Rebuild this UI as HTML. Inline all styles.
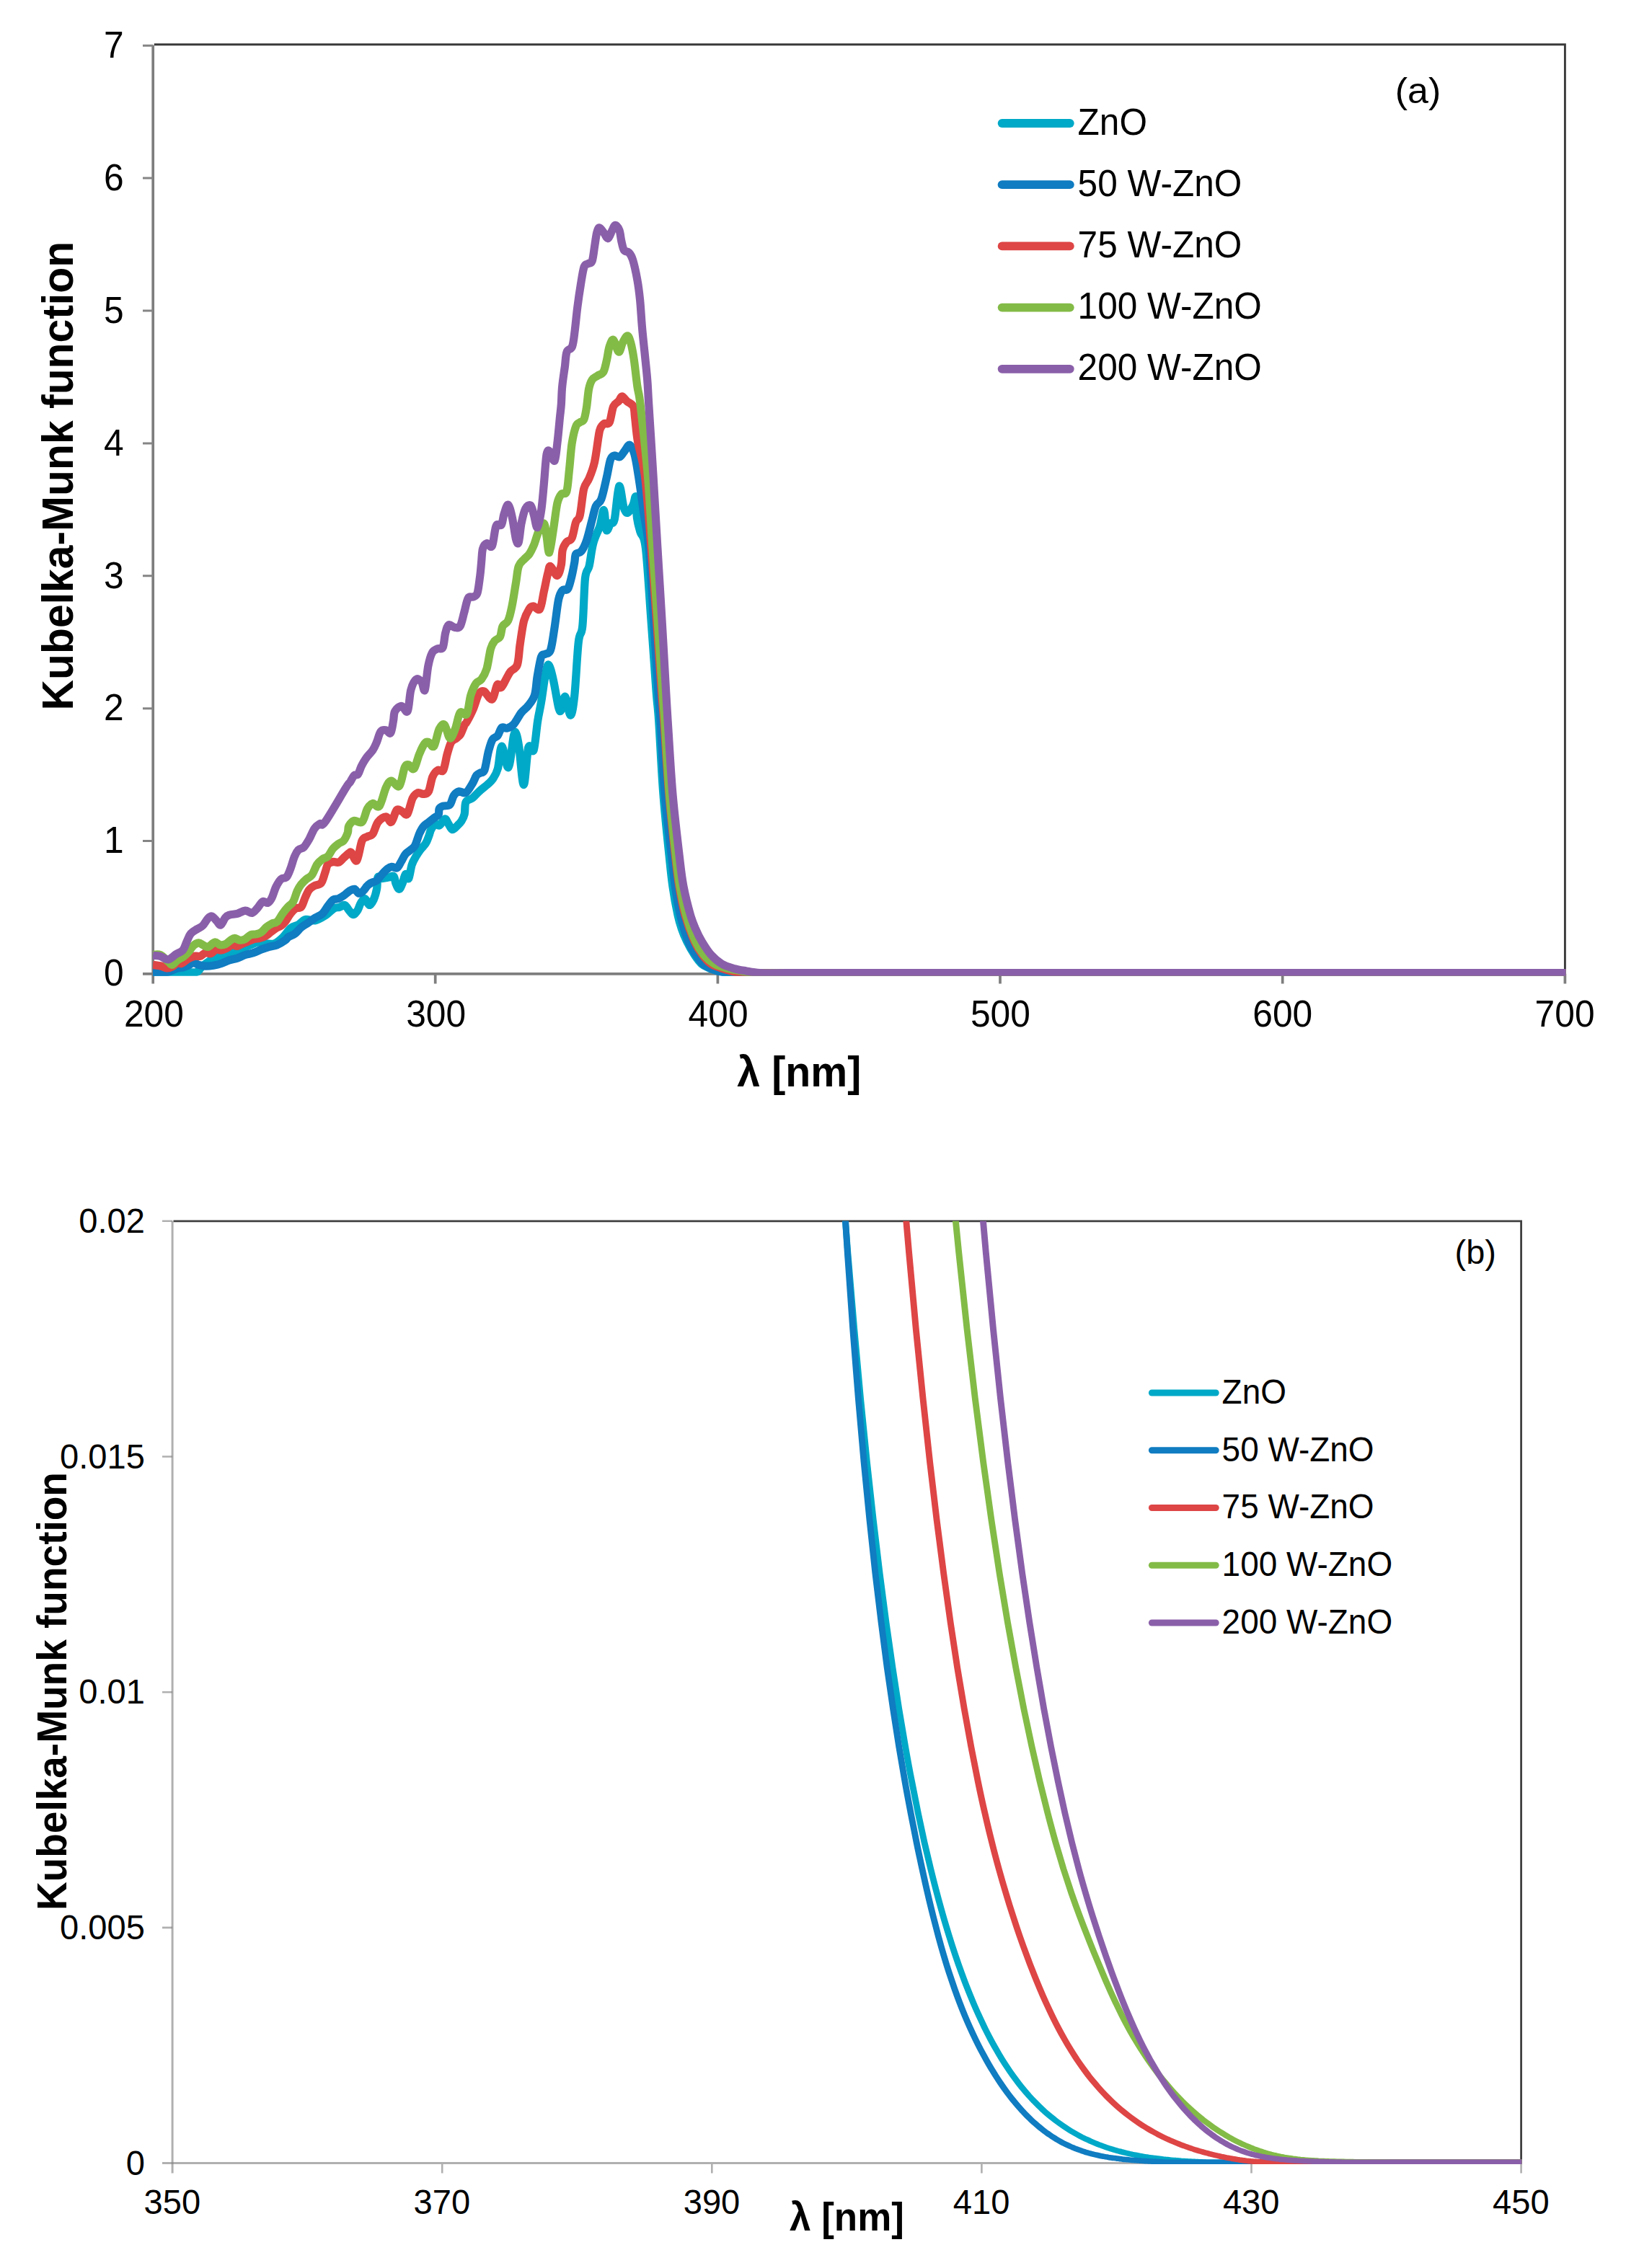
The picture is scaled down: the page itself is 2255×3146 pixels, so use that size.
<!DOCTYPE html>
<html lang="en"><head><meta charset="utf-8"><title>Kubelka-Munk function of ZnO and W-ZnO</title>
<style>html,body{margin:0;padding:0;background:#fff}svg{display:block}text{font-family:"Liberation Sans", sans-serif;fill:#000}</style>
</head><body>
<svg width="2255" height="3146" viewBox="0 0 2255 3146">
<rect width="2255" height="3146" fill="#fff"/>
<g id="chart-a">
<path d="M213.8 61.8H2170.4V1350" fill="none" stroke="#3a3a3a" stroke-width="2.9"/>
<g stroke="#7e7e7e" stroke-width="3.7" fill="none">
<path d="M212.2 62.5V1364.5"/>
<path d="M198 1350.8H2170.4"/>
<path d="M198 1166.6H212M198 982.7H212M198 798.8H212M198 614.9H212M198 431.0H212M198 247.1H212M198 63.2H212" stroke="#858585" stroke-width="3"/>
<path d="M603.7 1350.8V1364.5M995.4 1350.8V1364.5M1387.0 1350.8V1364.5M1778.7 1350.8V1364.5M2170.4 1350.8V1364.5"/>
</g>
<clipPath id="clipa"><rect x="212" y="40" width="1959.7" height="1313.8"/></clipPath>
<g fill="none" stroke-width="11.2" stroke-linejoin="round" stroke-linecap="butt" clip-path="url(#clipa)">
<path d="M212.0 1350.0C216.1 1349.9 229.7 1349.6 236.9 1349.4C244.1 1349.3 249.7 1349.2 255.4 1349.0C261.0 1348.9 267.7 1349.1 271.0 1348.7C274.4 1348.3 273.9 1347.8 275.3 1346.6C276.7 1345.4 277.7 1343.1 279.3 1341.5C280.9 1339.9 282.7 1338.6 284.9 1337.0C287.0 1335.4 289.2 1333.5 292.3 1331.9C295.3 1330.3 299.0 1328.7 303.3 1327.3C307.6 1325.9 312.5 1325.6 318.1 1323.6C323.6 1321.6 331.6 1317.4 336.5 1315.3C341.5 1313.1 343.9 1312.0 347.6 1310.7C351.3 1309.3 355.0 1307.3 358.7 1307.0C362.4 1306.7 366.1 1308.5 369.7 1308.8C373.4 1309.1 377.1 1310.2 380.8 1308.8C384.5 1307.4 388.7 1303.5 391.9 1300.5C395.1 1297.5 397.9 1293.2 400.0 1290.9C402.1 1288.5 402.0 1287.9 404.4 1286.5C406.9 1285.0 411.6 1283.9 414.8 1282.0C418.0 1280.2 419.9 1276.2 423.6 1275.4C427.3 1274.5 432.2 1277.8 436.9 1276.9C441.6 1275.9 447.2 1272.3 451.7 1269.5C456.1 1266.7 460.3 1261.7 463.5 1259.9C466.7 1258.0 468.4 1259.2 470.8 1258.4C473.3 1257.7 476.0 1254.7 478.2 1255.5C480.4 1256.2 482.2 1260.6 484.1 1262.8C486.1 1265.1 488.1 1268.7 490.0 1268.7C492.0 1268.7 494.2 1265.5 495.9 1262.8C497.7 1260.1 498.6 1255.2 500.4 1252.5C502.1 1249.8 504.3 1246.1 506.3 1246.6C508.2 1247.1 510.2 1255.2 512.2 1255.5C514.1 1255.7 516.4 1251.8 518.1 1248.1C519.8 1244.4 521.5 1238.5 522.5 1233.3C523.5 1228.2 522.8 1219.5 524.0 1217.1C525.2 1214.6 527.4 1218.6 529.9 1218.6C532.3 1218.6 536.0 1217.6 538.7 1217.1C541.5 1216.6 544.4 1214.1 546.1 1215.6C547.8 1217.1 547.8 1223.0 549.1 1225.9C550.3 1228.9 552.0 1233.3 553.5 1233.3C555.0 1233.3 556.5 1229.4 557.9 1225.9C559.4 1222.5 560.9 1213.9 562.4 1212.7C563.8 1211.4 565.3 1220.8 566.8 1218.6C568.3 1216.3 569.5 1204.5 571.2 1199.4C572.9 1194.2 575.2 1191.0 577.1 1187.6C579.1 1184.1 580.8 1181.7 583.0 1178.7C585.2 1175.8 588.4 1173.1 590.4 1169.9C592.4 1166.7 593.6 1162.7 594.8 1159.5C596.1 1156.3 596.3 1153.4 597.8 1150.7C599.3 1148.0 601.7 1144.3 603.7 1143.3C605.7 1142.3 607.4 1146.0 609.6 1144.8C611.8 1143.5 615.0 1136.4 617.0 1135.9C618.9 1135.4 619.7 1139.3 621.4 1141.8C623.1 1144.3 625.1 1150.2 627.3 1150.7C629.5 1151.2 632.6 1146.7 634.7 1144.8C636.8 1142.8 638.4 1141.5 640.0 1138.9C641.6 1136.3 643.2 1133.5 644.2 1129.2C645.2 1124.8 644.2 1116.2 646.1 1112.5C647.9 1108.9 652.2 1109.5 655.3 1107.0C658.4 1104.6 661.1 1100.9 664.5 1097.8C667.9 1094.7 672.5 1091.3 675.6 1088.6C678.6 1085.8 680.5 1084.9 683.0 1081.2C685.4 1077.5 688.2 1074.1 690.3 1066.4C692.5 1058.7 693.4 1035.4 695.9 1035.1C698.3 1034.7 702.3 1067.0 705.1 1064.6C707.9 1062.1 710.6 1028.0 712.5 1020.3C714.3 1012.6 714.9 1015.7 716.2 1018.5C717.4 1021.2 718.2 1025.2 719.9 1036.9C721.5 1048.6 724.2 1088.6 726.3 1088.6C728.5 1088.6 730.5 1044.9 732.8 1036.9C735.1 1028.9 738.0 1046.7 740.1 1040.6C742.3 1034.4 743.9 1011.1 745.7 1000.0C747.4 988.9 748.9 984.3 750.6 973.7C752.4 963.2 754.5 945.4 756.2 936.8C757.9 928.2 758.9 921.1 760.8 922.1C762.6 923.0 764.9 932.5 767.2 942.4C769.5 952.2 772.8 974.0 774.6 981.1C776.5 988.2 776.8 987.3 778.3 984.8C779.8 982.3 781.7 965.1 783.8 966.3C786.0 967.6 789.1 992.5 791.2 992.2C793.4 991.9 794.9 981.4 796.8 964.5C798.6 947.6 800.4 906.7 802.3 890.7C804.1 874.7 806.3 883.3 807.8 868.6C809.4 853.8 810.0 816.1 811.5 802.1C813.1 788.2 815.3 793.2 817.1 785.1C819.0 777.0 820.2 763.0 822.7 753.7C825.1 744.5 829.4 737.4 831.9 729.7C834.3 722.1 835.9 706.7 837.4 707.6C839.0 708.5 839.6 732.2 841.1 735.3C842.6 738.4 844.8 728.5 846.6 726.1C848.5 723.6 850.2 729.1 852.2 720.5C854.2 711.9 856.5 677.2 858.6 674.4C860.8 671.6 863.1 697.8 865.1 703.9C867.1 710.1 868.5 711.9 870.6 711.3C872.8 710.7 876.2 703.9 878.0 700.2C879.9 696.5 880.8 686.1 881.7 689.2C882.6 692.2 882.4 710.6 883.5 718.7C884.6 726.8 886.0 731.1 888.0 738.0C890.0 744.9 892.9 739.7 895.4 760.0C897.9 780.3 900.5 826.7 903.0 860.0C905.5 893.3 908.4 936.7 910.2 960.0C912.0 983.3 912.1 976.7 913.7 1000.0C915.3 1023.3 917.3 1068.3 919.8 1100.0C922.2 1131.7 926.2 1168.4 928.4 1190.0C930.6 1211.6 931.0 1216.3 932.9 1229.4C934.8 1242.5 937.8 1258.9 939.9 1268.7C942.0 1278.5 943.3 1282.2 945.4 1288.4C947.5 1294.6 949.6 1299.6 952.5 1305.6C955.4 1311.6 959.6 1319.1 963.0 1324.3C966.4 1329.5 969.5 1333.9 973.0 1337.0C976.5 1340.1 980.3 1341.4 984.0 1343.0C987.7 1344.6 991.5 1345.8 995.0 1346.7C998.5 1347.6 1002.5 1348.1 1005.3 1348.6C1008.1 1349.1 1009.2 1349.3 1012.0 1349.5C1014.8 1349.7 1018.2 1349.8 1022.0 1349.8C1025.8 1349.8 1028.7 1349.7 1035.0 1349.7C1041.3 1349.7 1051.7 1349.7 1060.0 1349.7C1068.3 1349.7 1080.8 1349.7 1085.0 1349.7H2173.4" stroke="#00A9C7"/>
<path d="M212.0 1349.4C214.6 1349.4 223.5 1349.9 227.7 1349.4C231.8 1348.9 233.8 1347.7 236.9 1346.6C240.0 1345.6 243.4 1343.7 246.1 1343.0C248.9 1342.2 251.0 1342.6 253.5 1342.0C256.0 1341.4 258.4 1340.3 260.9 1339.3C263.3 1338.2 265.8 1335.7 268.3 1335.6C270.7 1335.4 272.9 1337.6 275.6 1338.3C278.4 1339.1 281.5 1340.0 284.9 1340.2C288.3 1340.3 292.3 1339.9 295.9 1339.3C299.6 1338.6 303.3 1337.7 307.0 1336.5C310.7 1335.3 314.4 1333.1 318.1 1331.9C321.8 1330.7 325.5 1330.3 329.2 1329.1C332.8 1327.9 336.5 1325.7 340.2 1324.5C343.9 1323.3 347.6 1323.0 351.3 1321.7C355.0 1320.5 358.7 1318.5 362.4 1317.1C366.1 1315.7 369.7 1314.5 373.4 1313.4C377.1 1312.4 380.8 1312.2 384.5 1310.7C388.2 1309.1 393.0 1306.0 395.6 1304.2C398.2 1302.4 397.8 1301.2 400.0 1299.7C402.2 1298.3 405.9 1297.5 408.9 1295.3C411.8 1293.1 414.8 1288.9 417.7 1286.5C420.7 1284.0 423.4 1282.8 426.6 1280.6C429.8 1278.3 433.5 1275.4 436.9 1273.2C440.3 1271.0 444.3 1270.0 447.2 1267.3C450.2 1264.6 452.2 1260.1 454.6 1256.9C457.1 1253.7 459.5 1249.8 462.0 1248.1C464.5 1246.4 466.9 1247.6 469.4 1246.6C471.8 1245.6 474.3 1243.9 476.8 1242.2C479.2 1240.5 481.7 1237.7 484.1 1236.3C486.6 1234.8 489.3 1232.8 491.5 1233.3C493.7 1233.8 495.4 1238.7 497.4 1239.2C499.4 1239.7 501.4 1238.0 503.3 1236.3C505.3 1234.6 507.3 1230.9 509.2 1228.9C511.2 1226.9 512.9 1225.7 515.1 1224.5C517.3 1223.2 520.0 1223.5 522.5 1221.5C525.0 1219.5 527.4 1215.4 529.9 1212.7C532.3 1210.0 535.1 1207.0 537.3 1205.3C539.5 1203.6 541.0 1202.6 543.2 1202.3C545.4 1202.1 548.3 1205.0 550.6 1203.8C552.8 1202.6 554.5 1198.1 556.5 1194.9C558.4 1191.7 560.1 1187.3 562.4 1184.6C564.6 1181.9 567.5 1180.7 569.7 1178.7C572.0 1176.7 573.7 1176.5 575.6 1172.8C577.6 1169.1 579.6 1161.0 581.5 1156.6C583.5 1152.1 585.2 1148.9 587.5 1146.2C589.7 1143.5 592.4 1142.3 594.8 1140.3C597.3 1138.4 600.0 1136.2 602.2 1134.4C604.4 1132.7 607.0 1132.1 608.1 1130.0C609.3 1127.9 608.1 1123.8 609.2 1121.8C610.2 1119.8 612.2 1119.0 614.7 1118.1C617.1 1117.2 621.5 1118.7 623.9 1116.2C626.4 1113.8 627.3 1106.4 629.4 1103.3C631.6 1100.2 634.1 1098.4 636.8 1097.8C639.6 1097.2 643.0 1101.5 646.1 1099.6C649.1 1097.8 652.8 1090.7 655.3 1086.7C657.7 1082.7 659.0 1078.1 660.8 1075.6C662.7 1073.2 664.5 1073.2 666.3 1072.0C668.2 1070.7 670.0 1073.2 671.9 1068.3C673.7 1063.3 675.6 1049.5 677.4 1042.4C679.3 1035.4 680.8 1029.5 683.0 1025.8C685.1 1022.1 688.2 1023.1 690.3 1020.3C692.5 1017.5 693.7 1010.9 695.9 1009.2C698.0 1007.5 700.5 1010.9 703.2 1010.1C706.0 1009.4 709.2 1008.2 712.5 1004.6C715.8 1001.0 719.7 992.7 723.0 988.5C726.2 984.3 729.1 983.3 732.2 979.3C735.3 975.3 739.2 971.3 741.4 964.5C743.6 957.7 743.6 947.6 745.1 938.7C746.6 929.8 748.8 916.2 750.6 911.0C752.5 905.8 754.0 908.8 756.2 907.3C758.3 905.8 761.4 907.9 763.5 901.8C765.7 895.6 767.2 882.1 769.1 870.4C770.9 858.7 772.8 840.3 774.6 831.7C776.5 823.1 778.0 821.2 780.1 818.7C782.3 816.3 785.4 820.3 787.5 816.9C789.7 813.5 791.5 804.6 793.1 798.5C794.6 792.3 795.8 785.0 796.8 780.0C797.7 775.0 797.1 771.0 798.7 768.5C800.2 766.0 803.6 767.9 806.1 764.8C808.5 761.7 811.0 757.1 813.4 750.0C815.9 743.0 818.7 730.4 820.8 722.4C823.0 714.4 824.2 707.0 826.3 702.1C828.5 697.1 831.3 699.3 833.7 692.8C836.2 686.4 839.0 672.5 841.1 663.3C843.3 654.1 844.8 642.7 846.6 637.5C848.5 632.3 850.0 632.6 852.2 632.0C854.3 631.3 857.1 635.0 859.6 633.8C862.0 632.6 864.6 627.3 866.9 624.6C869.2 621.8 871.2 616.3 873.4 617.2C875.5 618.1 877.9 623.0 879.9 630.1C881.9 637.2 883.3 646.7 885.4 660.0C887.5 673.3 890.2 693.2 892.6 709.9C895.0 726.6 897.7 735.0 900.0 760.0C902.3 785.0 904.5 826.7 906.6 860.0C908.8 893.3 911.3 936.7 912.9 960.0C914.5 983.3 914.6 976.7 916.1 1000.0C917.7 1023.3 919.4 1068.3 922.0 1100.0C924.6 1131.7 929.4 1168.4 931.8 1190.0C934.2 1211.6 934.5 1216.3 936.4 1229.4C938.3 1242.5 940.4 1256.0 943.4 1268.7C946.4 1281.4 950.9 1296.3 954.5 1305.6C958.1 1314.9 961.6 1319.1 965.0 1324.3C968.4 1329.5 971.7 1333.9 975.0 1337.0C978.3 1340.1 981.7 1341.3 985.0 1343.0C988.3 1344.7 991.8 1346.0 995.0 1346.9C998.2 1347.9 1001.5 1348.2 1004.0 1348.7C1006.5 1349.2 1007.0 1349.4 1009.7 1349.6C1012.4 1349.8 1015.8 1349.8 1020.0 1349.8C1024.2 1349.8 1028.3 1349.7 1035.0 1349.7C1041.7 1349.7 1051.7 1349.7 1060.0 1349.7C1068.3 1349.7 1080.8 1349.7 1085.0 1349.7H2173.4" stroke="#107CC1"/>
<path d="M212.0 1338.3C214.0 1338.6 220.8 1339.4 224.0 1340.2C227.2 1341.0 228.9 1342.8 231.4 1343.0C233.8 1343.1 236.3 1342.3 238.7 1341.1C241.2 1339.9 244.0 1336.3 246.1 1335.6C248.3 1334.8 249.2 1337.4 251.7 1336.5C254.1 1335.6 257.8 1331.7 260.9 1330.0C264.0 1328.3 267.3 1327.0 270.1 1326.3C272.9 1325.7 275.0 1327.1 277.5 1326.3C280.0 1325.6 282.4 1322.3 284.9 1321.7C287.3 1321.1 289.8 1323.4 292.3 1322.7C294.7 1321.9 297.2 1317.9 299.6 1317.1C302.1 1316.4 304.6 1318.4 307.0 1318.0C309.5 1317.7 311.9 1316.5 314.4 1315.3C316.9 1314.0 319.3 1311.1 321.8 1310.7C324.2 1310.2 326.7 1312.8 329.2 1312.5C331.6 1312.2 334.1 1309.9 336.5 1308.8C339.0 1307.7 341.1 1307.1 343.9 1306.1C346.7 1305.0 350.4 1303.1 353.1 1302.4C355.9 1301.6 358.1 1302.1 360.5 1301.4C363.0 1300.8 365.4 1300.1 367.9 1298.7C370.4 1297.3 372.8 1295.0 375.3 1293.1C377.7 1291.3 380.2 1289.1 382.7 1287.6C385.1 1286.1 387.9 1285.4 390.0 1283.9C392.2 1282.4 393.4 1281.1 395.6 1278.4C397.7 1275.6 400.5 1270.4 403.0 1267.3C405.4 1264.2 407.9 1261.5 410.3 1259.9C412.8 1258.4 415.6 1260.5 417.7 1258.1C419.9 1255.6 421.4 1249.2 423.2 1245.2C425.1 1241.2 426.6 1236.9 428.8 1234.1C430.9 1231.3 433.4 1230.1 436.2 1228.6C438.9 1227.0 442.9 1227.9 445.4 1224.9C447.8 1221.8 449.4 1214.4 450.9 1210.1C452.5 1205.8 452.8 1201.5 454.6 1199.0C456.5 1196.6 459.5 1195.8 462.0 1195.4C464.5 1194.9 466.9 1197.2 469.4 1196.3C471.8 1195.4 474.3 1192.0 476.8 1189.8C479.2 1187.7 482.4 1184.6 484.1 1183.4C485.9 1182.2 485.6 1180.9 487.4 1182.7C489.2 1184.4 492.3 1196.5 494.8 1193.7C497.2 1191.0 499.7 1171.6 502.1 1166.1C504.6 1160.5 507.1 1162.1 509.5 1160.5C512.0 1159.0 514.4 1160.2 516.9 1156.8C519.4 1153.4 521.2 1144.2 524.3 1140.2C527.4 1136.2 532.3 1132.8 535.4 1132.8C538.4 1132.8 540.3 1141.8 542.7 1140.2C545.2 1138.7 547.7 1126.1 550.1 1123.6C552.6 1121.2 555.0 1124.5 557.5 1125.5C560.0 1126.4 562.4 1132.2 564.9 1129.2C567.3 1126.1 569.8 1111.9 572.3 1107.0C574.7 1102.1 577.2 1100.6 579.6 1099.6C582.1 1098.7 584.6 1101.8 587.0 1101.5C589.5 1101.2 592.2 1101.8 594.4 1097.8C596.5 1093.8 597.8 1082.4 599.9 1077.5C602.1 1072.6 604.8 1069.8 607.3 1068.3C609.8 1066.7 612.5 1072.0 614.7 1068.3C616.8 1064.6 618.4 1052.6 620.2 1046.1C622.1 1039.7 623.6 1033.2 625.8 1029.5C627.9 1025.8 631.0 1025.8 633.1 1024.0C635.3 1022.1 636.8 1021.5 638.7 1018.5C640.5 1015.4 642.8 1008.4 644.2 1005.5C645.6 1002.7 645.3 1005.2 647.3 1001.4C649.4 997.6 653.8 989.4 656.5 983.0C659.3 976.5 661.5 966.7 663.9 962.7C666.4 958.7 668.2 957.7 671.3 959.0C674.4 960.2 679.3 971.6 682.4 970.0C685.4 968.5 687.6 952.5 689.7 949.7C691.9 947.0 693.1 955.0 695.3 953.4C697.4 951.9 700.5 944.2 702.7 940.5C704.8 936.8 705.7 934.4 708.2 931.3C710.7 928.2 715.3 928.2 717.4 922.1C719.6 915.9 719.6 904.5 721.1 894.4C722.6 884.2 724.5 869.5 726.6 861.2C728.8 852.9 731.9 848.0 734.0 844.6C736.2 841.2 737.1 840.9 739.6 840.9C742.0 840.9 746.3 848.0 748.8 844.6C751.2 841.2 752.5 828.9 754.3 820.6C756.2 812.3 758.3 800.6 759.9 794.8C761.4 788.9 761.4 784.9 763.5 785.5C765.7 786.2 770.3 798.8 772.8 798.5C775.2 798.1 777.1 789.6 778.3 783.7C779.5 777.8 779.0 768.3 780.2 763.0C781.5 757.7 783.6 754.6 785.8 751.9C787.9 749.1 791.0 751.0 793.1 746.3C795.3 741.7 796.8 729.4 798.7 724.2C800.5 719.0 802.4 722.7 804.2 715.0C806.1 707.3 807.6 686.7 809.7 678.1C811.9 669.5 814.7 669.5 817.1 663.3C819.6 657.2 822.3 650.7 824.5 641.2C826.7 631.6 828.7 613.8 830.0 606.1C831.3 598.4 831.0 598.2 832.3 595.1C833.5 592.0 835.6 589.2 837.8 587.7C839.9 586.2 843.0 589.9 845.2 585.9C847.3 581.9 848.5 568.6 850.7 563.7C852.9 558.8 856.1 558.7 858.1 556.3C860.1 554.0 860.8 549.9 862.7 549.9C864.5 549.9 866.5 554.0 869.2 556.3C871.8 558.7 876.5 560.0 878.4 563.7C880.3 567.5 879.6 570.8 880.6 579.0C881.6 587.2 882.3 599.4 884.6 612.9C886.9 626.4 891.3 635.5 894.4 660.0C897.5 684.5 900.4 726.7 903.1 760.0C905.8 793.3 908.1 826.7 910.5 860.0C912.9 893.3 915.8 936.7 917.5 960.0C919.2 983.3 919.1 976.7 920.8 1000.0C922.5 1023.3 925.0 1068.3 927.7 1100.0C930.4 1131.7 934.4 1168.4 936.8 1190.0C939.2 1211.6 939.7 1216.3 941.9 1229.4C944.1 1242.5 946.4 1256.0 949.9 1268.7C953.4 1281.4 958.9 1296.3 962.9 1305.6C966.9 1314.9 970.1 1319.1 974.0 1324.3C977.9 1329.5 981.5 1333.8 986.0 1337.0C990.5 1340.2 996.6 1341.6 1001.0 1343.2C1005.4 1344.8 1009.1 1345.8 1012.6 1346.7C1016.1 1347.6 1019.5 1348.1 1022.0 1348.6C1024.5 1349.1 1024.5 1349.3 1027.5 1349.5C1030.5 1349.7 1035.4 1349.8 1040.0 1349.8C1044.6 1349.8 1048.3 1349.7 1055.0 1349.7C1061.7 1349.7 1071.7 1349.7 1080.0 1349.7C1088.3 1349.7 1100.8 1349.7 1105.0 1349.7H2173.4" stroke="#DE4545"/>
<path d="M212.0 1324.5C213.7 1324.5 218.6 1323.0 222.1 1324.5C225.7 1326.0 230.4 1331.4 233.2 1333.7C236.0 1336.0 236.6 1338.6 238.7 1338.3C240.9 1338.0 243.4 1333.9 246.1 1331.9C248.9 1329.9 252.6 1328.5 255.4 1326.3C258.1 1324.2 260.6 1321.4 262.7 1319.0C264.9 1316.5 266.1 1313.4 268.3 1311.6C270.4 1309.7 273.5 1308.1 275.6 1307.9C277.8 1307.7 279.0 1309.7 281.2 1310.7C283.3 1311.6 285.8 1314.0 288.6 1313.4C291.3 1312.8 295.0 1307.4 297.8 1307.0C300.6 1306.5 302.7 1310.2 305.2 1310.7C307.6 1311.1 310.1 1310.8 312.5 1309.7C315.0 1308.7 317.8 1305.6 319.9 1304.2C322.1 1302.8 323.3 1301.4 325.5 1301.4C327.6 1301.4 330.4 1304.1 332.8 1304.2C335.3 1304.4 337.8 1303.6 340.2 1302.4C342.7 1301.1 345.1 1297.9 347.6 1296.8C350.1 1295.8 352.5 1296.5 355.0 1295.9C357.4 1295.3 359.9 1294.8 362.4 1293.1C364.8 1291.4 367.3 1287.8 369.7 1285.8C372.2 1283.8 374.7 1282.4 377.1 1281.1C379.6 1279.9 382.0 1280.7 384.5 1278.4C387.0 1276.1 389.4 1270.7 391.9 1267.3C394.3 1263.9 396.8 1260.8 399.3 1258.1C401.7 1255.3 404.5 1254.4 406.6 1250.7C408.8 1247.0 410.3 1239.9 412.2 1235.9C414.0 1231.9 415.6 1229.5 417.7 1226.7C419.9 1223.9 422.6 1221.5 425.1 1219.3C427.6 1217.2 430.0 1217.2 432.5 1213.8C434.9 1210.4 437.4 1202.7 439.9 1199.0C442.3 1195.4 444.8 1193.5 447.2 1191.7C449.7 1189.8 452.2 1190.4 454.6 1188.0C457.1 1185.5 459.5 1179.8 462.0 1176.9C464.5 1174.0 466.9 1172.3 469.4 1170.4C471.8 1168.6 474.6 1168.4 476.8 1165.8C478.9 1163.2 481.1 1158.1 482.3 1154.8C483.4 1151.4 482.2 1148.5 483.7 1145.8C485.2 1143.0 488.0 1139.3 491.1 1138.4C494.1 1137.5 499.1 1143.0 502.1 1140.2C505.2 1137.5 507.1 1126.1 509.5 1121.8C512.0 1117.5 514.1 1115.0 516.9 1114.4C519.7 1113.8 523.1 1121.8 526.1 1118.1C529.2 1114.4 532.6 1098.1 535.4 1092.3C538.1 1086.4 539.7 1083.3 542.7 1083.0C545.8 1082.7 550.7 1093.5 553.8 1090.4C556.9 1087.3 559.0 1069.5 561.2 1064.6C563.3 1059.7 564.6 1060.6 566.7 1060.9C568.9 1061.2 571.6 1068.9 574.1 1066.4C576.6 1064.0 579.0 1052.0 581.5 1046.1C583.9 1040.3 586.7 1034.1 588.9 1031.4C591.0 1028.6 592.2 1028.9 594.4 1029.5C596.5 1030.1 599.3 1038.1 601.8 1035.1C604.2 1032.0 606.7 1016.0 609.2 1011.1C611.6 1006.2 614.1 1003.4 616.5 1005.5C619.0 1007.7 621.5 1023.1 623.9 1024.0C626.4 1024.9 628.9 1017.0 631.3 1011.1C633.7 1005.2 635.4 991.9 638.1 988.5C640.8 985.0 644.8 994.3 647.3 990.3C649.8 986.3 650.7 971.6 652.8 964.5C655.0 957.4 657.8 951.6 660.2 947.9C662.7 944.2 665.1 945.7 667.6 942.4C670.1 939.0 672.8 934.7 675.0 927.6C677.1 920.5 678.7 906.4 680.5 899.9C682.4 893.5 683.9 891.6 686.1 888.9C688.2 886.1 691.6 886.7 693.4 883.3C695.3 879.9 695.3 872.3 697.1 868.6C699.0 864.9 702.3 865.8 704.5 861.2C706.7 856.6 708.2 849.8 710.0 840.9C711.9 832.0 714.0 816.9 715.6 807.7C717.1 798.5 717.4 790.8 719.3 785.5C721.1 780.2 724.2 778.7 726.7 775.9C729.2 773.0 731.8 771.9 734.1 768.5C736.4 765.1 738.4 760.8 740.6 755.6C742.7 750.3 744.7 742.0 747.0 737.1C749.3 732.2 752.5 724.8 754.4 726.1C756.2 727.3 756.9 737.7 758.1 744.5C759.3 751.3 760.2 768.2 761.8 766.6C763.3 765.1 765.5 746.7 767.3 735.3C769.2 723.9 771.0 706.7 772.8 698.4C774.7 690.1 776.2 688.2 778.4 685.5C780.5 682.7 783.9 687.3 785.8 681.8C787.6 676.2 788.2 663.3 789.4 652.3C790.7 641.2 791.6 625.5 793.1 615.4C794.7 605.2 796.8 596.3 798.7 591.4C800.5 586.4 802.4 587.4 804.2 585.8C806.1 584.3 808.2 585.5 809.7 582.1C811.3 578.8 812.3 572.6 813.4 565.5C814.6 558.5 815.3 546.2 816.6 539.7C817.9 533.3 819.2 529.9 821.2 526.8C823.2 523.8 825.9 523.1 828.6 521.3C831.2 519.4 834.7 519.4 836.9 515.8C839.0 512.1 840.1 505.0 841.5 499.2C842.9 493.3 843.6 485.3 845.2 480.7C846.7 476.1 848.5 470.2 850.7 471.5C852.9 472.7 855.9 487.5 858.1 488.1C860.2 488.7 861.6 478.9 863.6 475.2C865.6 471.5 868.2 465.9 870.1 465.9C871.9 465.9 873.1 469.6 874.7 475.2C876.2 480.7 877.8 489.0 879.3 499.2C880.8 509.3 882.4 525.6 883.9 536.1C885.4 546.5 885.8 541.3 888.2 562.0C890.6 582.7 895.6 627.0 898.4 660.0C901.2 693.0 902.7 726.7 905.0 760.0C907.3 793.3 909.7 826.7 912.0 860.0C914.3 893.3 917.2 936.7 918.8 960.0C920.4 983.3 920.3 976.7 921.9 1000.0C923.4 1023.3 925.7 1068.3 928.3 1100.0C930.9 1131.7 935.3 1168.4 937.7 1190.0C940.1 1211.6 940.6 1216.3 942.9 1229.4C945.2 1242.5 947.8 1256.0 951.4 1268.7C955.0 1281.4 960.3 1296.3 964.4 1305.6C968.5 1314.9 971.6 1319.1 976.0 1324.3C980.4 1329.5 985.3 1333.8 991.0 1337.0C996.7 1340.2 1004.0 1342.0 1010.0 1343.6C1016.0 1345.2 1022.3 1345.9 1027.0 1346.7C1031.7 1347.5 1035.0 1348.1 1038.0 1348.6C1041.0 1349.1 1041.6 1349.3 1045.3 1349.5C1049.0 1349.7 1055.0 1349.8 1060.0 1349.8C1065.0 1349.8 1068.3 1349.7 1075.0 1349.7C1081.7 1349.7 1091.7 1349.7 1100.0 1349.7C1108.3 1349.7 1120.8 1349.7 1125.0 1349.7H2173.4" stroke="#83BB47"/>
<path d="M212.0 1325.4C213.7 1325.6 218.6 1325.4 222.1 1326.3C225.7 1327.3 229.5 1331.4 233.2 1331.0C236.9 1330.5 240.9 1325.7 244.3 1323.6C247.7 1321.4 251.0 1321.0 253.5 1318.0C256.0 1315.1 257.2 1309.9 259.0 1306.1C260.9 1302.2 262.1 1297.9 264.6 1295.0C267.0 1292.1 271.0 1290.4 273.8 1288.5C276.6 1286.7 278.7 1286.4 281.2 1283.9C283.6 1281.5 286.4 1275.9 288.6 1273.8C290.7 1271.6 292.1 1270.4 294.1 1271.0C296.1 1271.6 298.6 1275.5 300.6 1277.5C302.6 1279.5 304.1 1283.8 306.1 1283.0C308.1 1282.2 310.5 1275.1 312.5 1272.8C314.5 1270.5 315.3 1270.1 318.1 1269.2C320.8 1268.2 325.5 1268.3 329.2 1267.3C332.8 1266.3 336.8 1263.4 340.2 1263.2C343.6 1263.1 346.7 1266.9 349.4 1266.4C352.2 1265.8 354.4 1262.5 356.8 1259.9C359.3 1257.3 361.7 1252.0 364.2 1250.7C366.7 1249.4 369.4 1253.1 371.6 1252.2C373.7 1251.3 375.3 1248.8 377.1 1245.2C379.0 1241.5 380.5 1234.7 382.7 1230.4C384.8 1226.1 387.6 1221.6 390.0 1219.3C392.5 1217.0 395.3 1219.0 397.4 1216.6C399.6 1214.1 401.1 1209.3 403.0 1204.6C404.8 1199.8 406.6 1192.3 408.5 1188.0C410.3 1183.7 411.9 1180.9 414.0 1178.7C416.2 1176.6 418.9 1177.5 421.4 1175.1C423.9 1172.6 426.3 1168.3 428.8 1164.0C431.2 1159.7 433.7 1152.8 436.2 1149.2C438.6 1145.7 441.1 1144.3 443.5 1142.8C446.0 1141.2 444.8 1148.4 450.9 1140.0C457.0 1131.6 474.2 1101.4 480.0 1092.3C485.8 1083.1 483.7 1087.6 485.5 1084.9C487.4 1082.1 489.2 1077.5 491.1 1075.6C492.9 1073.8 494.9 1076.0 496.6 1073.8C498.3 1071.6 499.4 1066.4 501.2 1062.7C503.1 1059.0 505.1 1055.4 507.7 1051.7C510.3 1048.0 514.4 1044.3 516.9 1040.6C519.4 1036.9 520.6 1033.8 522.4 1029.5C524.3 1025.2 525.8 1017.5 528.0 1014.8C530.1 1012.0 533.0 1012.6 535.4 1012.9C537.7 1013.2 540.1 1018.8 541.8 1016.6C543.5 1014.5 544.5 1005.0 545.5 1000.0C546.5 995.0 545.8 990.1 547.7 986.6C549.6 983.2 554.0 979.3 556.9 979.3C559.8 979.3 563.1 990.3 565.2 986.6C567.4 983.0 567.8 964.5 569.8 957.1C571.8 949.7 574.7 944.2 577.2 942.4C579.7 940.5 582.6 943.6 584.6 946.1C586.6 948.5 587.7 960.8 589.2 957.1C590.7 953.4 592.1 932.5 593.8 923.9C595.5 915.3 597.2 909.5 599.3 905.5C601.5 901.5 604.3 901.2 606.7 899.9C609.2 898.7 612.3 901.8 614.1 898.1C615.9 894.4 616.4 883.0 617.8 877.8C619.2 872.6 620.2 867.9 622.4 866.7C624.6 865.5 628.1 870.1 630.7 870.4C633.3 870.7 635.9 871.9 638.1 868.6C640.2 865.2 641.8 856.6 643.6 850.1C645.5 843.7 647.0 833.5 649.2 829.8C651.3 826.1 654.4 829.2 656.5 828.0C658.7 826.7 660.5 827.4 662.1 822.4C663.6 817.5 664.8 805.5 665.8 798.5C666.7 791.4 667.0 786.2 667.6 780.0C668.2 773.8 668.3 765.5 669.5 761.1C670.8 756.7 672.9 754.3 675.1 753.7C677.2 753.1 680.3 761.4 682.4 757.4C684.6 753.4 685.8 734.7 688.0 729.7C690.1 724.8 693.5 730.7 695.4 727.9C697.2 725.1 697.5 717.7 699.0 713.1C700.6 708.5 702.7 699.6 704.6 700.2C706.4 700.8 708.3 708.8 710.1 716.8C712.0 724.8 714.1 742.3 715.6 748.2C717.2 754.0 718.1 755.6 719.3 751.9C720.6 748.2 721.5 733.7 723.0 726.1C724.6 718.4 726.4 709.9 728.6 705.8C730.7 701.6 733.9 699.6 735.9 701.1C737.9 702.7 739.0 709.9 740.6 715.0C742.1 720.1 743.5 732.8 745.2 731.6C746.9 730.4 749.2 717.7 750.7 707.6C752.2 697.5 753.2 683.6 754.4 670.7C755.6 657.8 756.7 637.5 758.1 630.1C759.5 622.7 760.8 624.9 762.7 626.4C764.5 628.0 767.5 641.2 769.2 639.3C770.8 637.5 771.6 625.5 772.8 615.4C774.1 605.2 775.6 587.7 776.5 578.5C777.5 569.2 777.9 567.1 778.4 560.0C778.9 552.9 778.8 544.7 779.7 536.1C780.5 527.4 782.3 516.4 783.4 508.4C784.4 500.4 784.4 492.7 786.1 488.1C787.8 483.5 791.7 485.6 793.5 480.7C795.4 475.8 796.0 467.8 797.2 458.6C798.4 449.3 799.5 436.1 800.9 425.4C802.3 414.6 804.0 403.2 805.5 394.0C807.0 384.8 808.4 374.7 810.1 370.0C811.8 365.3 813.8 367.1 815.6 365.8C817.5 364.4 819.6 366.4 821.2 362.1C822.7 357.8 823.8 346.4 824.9 339.9C825.9 333.5 826.6 327.3 827.6 323.3C828.7 319.3 829.6 315.9 831.3 315.9C833.0 315.9 835.8 320.9 837.8 323.3C839.8 325.8 841.5 331.3 843.3 330.7C845.2 330.1 847.2 322.7 848.9 319.6C850.5 316.6 851.8 312.3 853.5 312.3C855.2 312.3 857.6 315.9 859.0 319.6C860.4 323.3 860.7 329.8 861.8 334.4C862.8 339.0 863.8 344.7 865.5 347.3C867.2 349.9 869.9 347.9 871.9 350.1C873.9 352.2 875.5 353.8 877.5 360.2C879.5 366.6 882.2 379.1 883.9 388.5C885.6 397.8 886.5 405.4 887.6 416.1C888.7 426.9 889.3 440.7 890.4 453.0C891.4 465.3 892.8 477.6 894.1 489.9C895.3 502.2 896.8 515.1 897.7 526.8C898.7 538.5 898.3 537.8 899.7 560.0C901.1 582.2 904.0 626.7 906.0 660.0C908.0 693.3 909.9 726.7 911.9 760.0C913.9 793.3 916.0 826.7 918.0 860.0C920.0 893.3 922.3 936.7 923.7 960.0C925.1 983.3 924.6 976.7 926.1 1000.0C927.7 1023.3 930.1 1068.3 932.8 1100.0C935.5 1131.7 940.0 1168.4 942.5 1190.0C945.0 1211.6 945.4 1216.3 947.9 1229.4C950.4 1242.5 954.6 1258.9 957.4 1268.7C960.2 1278.5 962.0 1282.2 964.6 1288.4C967.2 1294.6 969.6 1299.6 973.2 1305.6C976.8 1311.6 981.4 1319.1 986.0 1324.3C990.6 1329.5 995.6 1333.8 1001.0 1337.0C1006.4 1340.2 1012.5 1341.9 1018.2 1343.6C1023.9 1345.2 1030.5 1346.1 1035.0 1346.9C1039.5 1347.7 1041.8 1348.2 1045.0 1348.6C1048.2 1349.0 1049.8 1349.3 1054.0 1349.5C1058.2 1349.7 1064.0 1349.8 1070.0 1349.8C1076.0 1349.8 1082.5 1349.7 1090.0 1349.7C1097.5 1349.7 1106.7 1349.7 1115.0 1349.7C1123.3 1349.7 1135.8 1349.7 1140.0 1349.7H2173.4" stroke="#8A5FA9"/>
</g>
<text transform="translate(171.6 1367.2) scale(0.975 1)" font-size="51.0" text-anchor="end">0</text>
<text transform="translate(171.6 1183.3) scale(0.975 1)" font-size="51.0" text-anchor="end">1</text>
<text transform="translate(171.6 999.4) scale(0.975 1)" font-size="51.0" text-anchor="end">2</text>
<text transform="translate(171.6 815.5) scale(0.975 1)" font-size="51.0" text-anchor="end">3</text>
<text transform="translate(171.6 631.6) scale(0.975 1)" font-size="51.0" text-anchor="end">4</text>
<text transform="translate(171.6 447.7) scale(0.975 1)" font-size="51.0" text-anchor="end">5</text>
<text transform="translate(171.6 263.8) scale(0.975 1)" font-size="51.0" text-anchor="end">6</text>
<text transform="translate(171.6 79.9) scale(0.975 1)" font-size="51.0" text-anchor="end">7</text>
<text transform="translate(213.4 1424.0) scale(0.975 1)" font-size="51.0" text-anchor="middle">200</text>
<text transform="translate(604.7 1424.0) scale(0.975 1)" font-size="51.0" text-anchor="middle">300</text>
<text transform="translate(996.1 1424.0) scale(0.975 1)" font-size="51.0" text-anchor="middle">400</text>
<text transform="translate(1387.4 1424.0) scale(0.975 1)" font-size="51.0" text-anchor="middle">500</text>
<text transform="translate(1778.8 1424.0) scale(0.975 1)" font-size="51.0" text-anchor="middle">600</text>
<text transform="translate(2170.1 1424.0) scale(0.975 1)" font-size="51.0" text-anchor="middle">700</text>
<text transform="translate(1108.3 1507.2) scale(0.955 1)" font-size="60.0" font-weight="bold" text-anchor="middle">λ [nm]</text>
<text transform="translate(101.4 660.2) rotate(-90) scale(0.968 1)" font-size="60.8" font-weight="bold" text-anchor="middle">Kubelka-Munk function</text>
<path d="M1389.6 171.0H1483.8" stroke="#00A9C7" stroke-width="11.8" stroke-linecap="round" fill="none"/>
<text transform="translate(1494.6 186.6) scale(0.972 1)" font-size="51.0">ZnO</text>
<path d="M1389.6 256.2H1483.8" stroke="#107CC1" stroke-width="11.8" stroke-linecap="round" fill="none"/>
<text transform="translate(1494.6 271.8) scale(0.972 1)" font-size="51.0">50 W-ZnO</text>
<path d="M1389.6 341.4H1483.8" stroke="#DE4545" stroke-width="11.8" stroke-linecap="round" fill="none"/>
<text transform="translate(1494.6 357.0) scale(0.972 1)" font-size="51.0">75 W-ZnO</text>
<path d="M1389.6 426.6H1483.8" stroke="#83BB47" stroke-width="11.8" stroke-linecap="round" fill="none"/>
<text transform="translate(1494.6 442.2) scale(0.972 1)" font-size="51.0">100 W-ZnO</text>
<path d="M1389.6 511.8H1483.8" stroke="#8A5FA9" stroke-width="11.8" stroke-linecap="round" fill="none"/>
<text transform="translate(1494.6 527.4) scale(0.972 1)" font-size="51.0">200 W-ZnO</text>
<text transform="translate(1934.8 143.2) scale(1.040 1)" font-size="50.0">(a)</text>
</g>
<g id="chart-b">
<clipPath id="clipb"><rect x="239.1" y="1693.8" width="1871.9" height="1308.1"/></clipPath>
<path d="M240.5 1693.8H2109.6V3000" fill="none" stroke="#404040" stroke-width="2.8"/>
<g stroke="#808080" stroke-opacity="0.62" stroke-width="3" fill="none">
<path d="M239.1 1693.8V3014.5"/>
<path d="M225 3000.6H2109.6"/>
<path d="M225 2673.9H239.1M225 2347.2H239.1M225 2020.5H239.1M225 1693.8H239.1" stroke-width="2.6"/>
<path d="M613.2 3002.1V3014.5M987.3 3002.1V3014.5M1361.4 3002.1V3014.5M1735.5 3002.1V3014.5M2109.6 3002.1V3014.5" stroke-width="2.6"/>
</g>
<g clip-path="url(#clipb)"><g fill="none" stroke-width="7.6" stroke-linejoin="round" transform="scale(1.170 1)">
<path d="M997.6 1623.7C998.8 1642.8 1002.6 1701.7 1005.0 1738.3C1007.5 1774.9 1010.0 1809.8 1012.6 1843.4C1015.1 1876.9 1017.6 1908.9 1020.1 1939.7C1022.6 1970.4 1025.1 1999.7 1027.7 2027.9C1030.2 2056.1 1032.7 2083.0 1035.3 2108.9C1037.8 2134.7 1040.3 2159.4 1042.9 2183.1C1045.4 2206.8 1047.9 2229.4 1050.5 2251.1C1053.0 2272.8 1055.5 2293.5 1058.1 2313.4C1060.6 2333.4 1063.1 2352.3 1065.6 2370.6C1068.2 2388.9 1070.7 2406.3 1073.2 2423.0C1075.7 2439.7 1078.2 2455.7 1080.8 2471.0C1083.3 2486.4 1085.8 2501.0 1088.3 2515.1C1090.8 2529.2 1093.3 2542.6 1095.7 2555.5C1098.2 2568.4 1100.7 2580.6 1103.2 2592.5C1105.7 2604.3 1108.1 2615.6 1110.6 2626.4C1113.0 2637.2 1115.5 2647.6 1117.9 2657.5C1120.3 2667.4 1122.8 2676.9 1125.2 2686.0C1127.6 2695.1 1130.0 2703.8 1132.4 2712.1C1134.8 2720.5 1137.2 2728.5 1139.6 2736.1C1142.0 2743.8 1144.3 2751.1 1146.7 2758.1C1149.0 2765.1 1151.4 2771.8 1153.7 2778.2C1156.0 2784.6 1158.4 2790.8 1160.7 2796.7C1163.0 2802.6 1165.3 2808.2 1167.5 2813.6C1169.8 2819.0 1172.1 2824.2 1174.3 2829.1C1176.6 2834.1 1178.8 2838.8 1181.1 2843.3C1183.3 2847.9 1185.5 2852.2 1187.7 2856.4C1189.9 2860.5 1192.1 2864.5 1194.3 2868.3C1196.4 2872.1 1198.6 2875.8 1200.7 2879.3C1202.9 2882.8 1205.0 2886.1 1207.1 2889.3C1209.2 2892.5 1211.3 2895.6 1213.4 2898.5C1215.5 2901.5 1217.6 2904.3 1219.6 2907.0C1221.7 2909.7 1223.7 2912.2 1225.8 2914.7C1227.8 2917.2 1229.8 2919.5 1231.8 2921.8C1233.8 2924.1 1235.8 2926.2 1237.7 2928.3C1239.7 2930.4 1241.7 2932.4 1243.6 2934.3C1245.5 2936.2 1247.5 2938.0 1249.4 2939.7C1251.3 2941.5 1253.2 2943.1 1255.0 2944.7C1256.9 2946.3 1258.8 2947.9 1260.6 2949.3C1262.5 2950.8 1264.3 2952.2 1266.1 2953.5C1267.9 2954.9 1269.7 2956.2 1271.5 2957.4C1273.3 2958.6 1275.1 2959.8 1276.8 2960.9C1278.6 2962.1 1280.3 2963.2 1282.0 2964.2C1283.8 2965.2 1285.5 2966.2 1287.2 2967.2C1288.9 2968.1 1290.6 2969.0 1292.2 2969.9C1293.9 2970.8 1295.5 2971.6 1297.2 2972.4C1298.8 2973.2 1300.4 2973.9 1302.0 2974.7C1303.7 2975.4 1305.3 2976.1 1306.8 2976.8C1308.4 2977.4 1310.0 2978.1 1311.5 2978.7C1313.1 2979.3 1314.6 2979.9 1316.1 2980.5C1317.7 2981.0 1319.2 2981.6 1320.7 2982.1C1322.2 2982.6 1323.6 2983.1 1325.1 2983.6C1326.6 2984.0 1328.0 2984.5 1329.5 2984.9C1330.9 2985.4 1332.3 2985.8 1333.8 2986.2C1335.2 2986.6 1336.6 2987.0 1337.9 2987.3C1339.3 2987.7 1340.7 2988.0 1342.1 2988.4C1343.4 2988.7 1344.8 2989.0 1346.1 2989.3C1347.4 2989.6 1348.8 2989.9 1350.1 2990.2C1351.4 2990.5 1352.7 2990.8 1353.9 2991.0C1355.2 2991.3 1356.5 2991.5 1357.7 2991.8C1359.0 2992.0 1360.2 2992.2 1361.5 2992.4C1362.7 2992.6 1363.9 2992.9 1365.1 2993.1C1366.3 2993.3 1367.5 2993.4 1368.7 2993.6C1369.8 2993.8 1371.0 2994.0 1372.2 2994.1C1373.3 2994.3 1374.5 2994.5 1375.6 2994.6C1376.7 2994.8 1377.8 2994.9 1378.9 2995.1C1380.0 2995.2 1381.1 2995.3 1382.2 2995.5C1383.2 2995.6 1384.3 2995.7 1385.3 2995.8C1386.4 2996.0 1387.4 2996.1 1388.4 2996.2C1389.5 2996.3 1390.5 2996.4 1391.5 2996.5C1392.5 2996.6 1393.4 2996.7 1394.4 2996.8C1395.4 2996.9 1396.3 2996.9 1397.3 2997.0C1398.2 2997.1 1399.1 2997.2 1400.0 2997.3C1401.0 2997.3 1401.9 2997.4 1402.7 2997.5C1403.6 2997.6 1404.5 2997.6 1405.3 2997.7C1406.2 2997.8 1407.0 2997.8 1407.9 2997.9C1408.7 2997.9 1409.5 2998.0 1410.3 2998.0C1411.1 2998.1 1411.9 2998.1 1412.6 2998.2C1413.4 2998.2 1414.1 2998.3 1414.9 2998.3C1415.6 2998.4 1416.3 2998.4 1417.0 2998.5C1417.7 2998.5 1418.4 2998.5 1419.1 2998.6C1419.7 2998.6 1420.4 2998.7 1421.0 2998.7C1421.7 2998.7 1422.3 2998.8 1422.9 2998.8C1423.5 2998.8 1424.0 2998.9 1424.6 2998.9C1425.1 2998.9 1425.7 2998.9 1426.2 2999.0C1426.7 2999.0 1427.2 2999.0 1427.7 2999.1C1428.2 2999.1 1428.6 2999.1 1429.1 2999.1C1429.5 2999.1 1429.9 2999.2 1430.3 2999.2C1430.7 2999.2 1431.1 2999.2 1431.4 2999.2C1431.8 2999.3 1428.7 2999.3 1432.4 2999.3C1436.1 2999.3 1446.6 2999.3 1453.8 2999.3C1460.9 2999.3 1471.6 2999.3 1475.1 2999.3H1803.9" stroke="#00A9C7"/>
<path d="M998.5 1623.7C999.5 1642.8 1002.5 1701.7 1004.6 1738.3C1006.7 1774.9 1008.8 1809.8 1010.9 1843.4C1013.0 1876.9 1015.2 1908.9 1017.4 1939.7C1019.6 1970.4 1021.8 1999.7 1024.0 2027.9C1026.2 2056.1 1028.5 2083.0 1030.8 2108.9C1033.0 2134.7 1035.3 2159.4 1037.6 2183.1C1039.9 2206.8 1042.2 2229.4 1044.6 2251.1C1046.9 2272.8 1049.2 2293.5 1051.5 2313.4C1053.9 2333.4 1056.2 2352.3 1058.6 2370.6C1060.9 2388.9 1063.3 2406.3 1065.6 2423.0C1067.9 2439.7 1070.3 2455.7 1072.6 2471.0C1074.9 2486.4 1077.3 2501.0 1079.6 2515.1C1081.9 2529.2 1084.1 2542.6 1086.4 2555.5C1088.6 2568.4 1090.9 2580.6 1093.1 2592.5C1095.3 2604.3 1097.4 2615.6 1099.6 2626.4C1101.7 2637.2 1103.9 2647.6 1106.0 2657.5C1108.1 2667.4 1110.2 2676.9 1112.3 2686.0C1114.4 2695.1 1116.5 2703.8 1118.6 2712.1C1120.7 2720.5 1122.8 2728.5 1124.9 2736.1C1127.1 2743.8 1129.2 2751.1 1131.3 2758.1C1133.4 2765.1 1135.5 2771.8 1137.6 2778.2C1139.7 2784.6 1141.8 2790.8 1143.9 2796.7C1146.0 2802.6 1148.1 2808.2 1150.2 2813.6C1152.3 2819.0 1154.4 2824.2 1156.4 2829.1C1158.5 2834.1 1160.5 2838.8 1162.5 2843.3C1164.6 2847.9 1166.6 2852.2 1168.6 2856.4C1170.5 2860.5 1172.5 2864.5 1174.4 2868.3C1176.4 2872.1 1178.3 2875.8 1180.2 2879.3C1182.1 2882.8 1184.0 2886.1 1185.8 2889.3C1187.7 2892.5 1189.5 2895.6 1191.3 2898.5C1193.1 2901.5 1194.9 2904.3 1196.7 2907.0C1198.4 2909.7 1200.2 2912.2 1201.9 2914.7C1203.6 2917.2 1205.3 2919.5 1207.0 2921.8C1208.7 2924.1 1210.3 2926.2 1212.0 2928.3C1213.6 2930.4 1215.2 2932.4 1216.8 2934.3C1218.4 2936.2 1220.0 2938.0 1221.5 2939.7C1223.1 2941.5 1224.6 2943.1 1226.2 2944.7C1227.7 2946.3 1229.2 2947.9 1230.7 2949.3C1232.2 2950.8 1233.7 2952.2 1235.1 2953.5C1236.6 2954.9 1238.0 2956.2 1239.4 2957.4C1240.9 2958.6 1242.3 2959.8 1243.7 2960.9C1245.1 2962.1 1246.5 2963.2 1247.8 2964.2C1249.2 2965.2 1250.6 2966.2 1251.9 2967.2C1253.3 2968.1 1254.6 2969.0 1255.9 2969.9C1257.2 2970.8 1258.5 2971.6 1259.8 2972.4C1261.1 2973.2 1262.4 2973.9 1263.7 2974.7C1265.0 2975.4 1266.3 2976.1 1267.5 2976.8C1268.8 2977.4 1270.0 2978.1 1271.3 2978.7C1272.5 2979.3 1273.8 2979.9 1275.0 2980.5C1276.2 2981.0 1277.5 2981.6 1278.7 2982.1C1279.9 2982.6 1281.1 2983.1 1282.3 2983.6C1283.5 2984.0 1284.7 2984.5 1285.9 2984.9C1287.1 2985.4 1288.3 2985.8 1289.5 2986.2C1290.6 2986.6 1291.8 2987.0 1293.0 2987.3C1294.2 2987.7 1295.3 2988.0 1296.5 2988.4C1297.7 2988.7 1298.8 2989.0 1300.0 2989.3C1301.2 2989.6 1302.3 2989.9 1303.5 2990.2C1304.6 2990.5 1305.8 2990.8 1306.9 2991.0C1308.1 2991.3 1309.2 2991.5 1310.4 2991.8C1311.5 2992.0 1312.6 2992.2 1313.8 2992.4C1314.9 2992.6 1316.0 2992.9 1317.2 2993.1C1318.3 2993.3 1319.4 2993.4 1320.6 2993.6C1321.7 2993.8 1322.8 2994.0 1323.9 2994.1C1325.0 2994.3 1326.2 2994.5 1327.3 2994.6C1328.4 2994.8 1329.5 2994.9 1330.6 2995.1C1331.7 2995.2 1332.8 2995.3 1333.9 2995.5C1335.0 2995.6 1336.1 2995.7 1337.2 2995.8C1338.2 2996.0 1339.3 2996.1 1340.4 2996.2C1341.5 2996.3 1342.5 2996.4 1343.6 2996.5C1344.6 2996.6 1345.7 2996.7 1346.7 2996.8C1347.7 2996.9 1348.8 2996.9 1349.8 2997.0C1350.8 2997.1 1351.8 2997.2 1352.8 2997.3C1353.8 2997.3 1354.8 2997.4 1355.7 2997.5C1356.7 2997.6 1357.6 2997.6 1358.6 2997.7C1359.5 2997.8 1360.4 2997.8 1361.3 2997.9C1362.2 2997.9 1363.1 2998.0 1363.9 2998.0C1364.8 2998.1 1365.6 2998.1 1366.4 2998.2C1367.3 2998.2 1368.0 2998.3 1368.8 2998.3C1369.6 2998.4 1370.3 2998.4 1371.0 2998.5C1371.7 2998.5 1372.4 2998.5 1373.0 2998.6C1373.7 2998.6 1374.3 2998.7 1374.8 2998.7C1375.4 2998.7 1375.9 2998.8 1376.4 2998.8C1376.9 2998.8 1377.4 2998.9 1377.8 2998.9C1378.2 2998.9 1378.5 2998.9 1378.8 2999.0C1379.2 2999.0 1379.4 2999.0 1379.6 2999.1C1379.8 2999.1 1380.0 2999.1 1380.1 2999.1C1380.2 2999.1 1376.6 2999.2 1380.2 2999.2C1383.8 2999.2 1394.4 2999.3 1401.6 2999.3C1408.7 2999.3 1419.4 2999.3 1422.9 2999.3H1803.9" stroke="#107CC1"/>
<path d="M1069.2 1623.7C1070.6 1642.8 1074.7 1701.7 1077.5 1738.3C1080.2 1774.9 1083.0 1809.8 1085.7 1843.4C1088.5 1876.9 1091.2 1908.9 1094.0 1939.7C1096.7 1970.4 1099.4 1999.7 1102.2 2027.9C1104.9 2056.1 1107.6 2083.0 1110.4 2108.9C1113.1 2134.7 1115.8 2159.4 1118.6 2183.1C1121.3 2206.8 1124.0 2229.4 1126.7 2251.1C1129.4 2272.8 1132.1 2293.5 1134.8 2313.4C1137.6 2333.4 1140.3 2352.3 1143.0 2370.6C1145.7 2388.9 1148.4 2406.3 1151.1 2423.0C1153.8 2439.7 1156.5 2455.7 1159.2 2471.0C1161.9 2486.4 1164.6 2501.0 1167.4 2515.1C1170.1 2529.2 1172.9 2542.6 1175.7 2555.5C1178.4 2568.4 1181.2 2580.6 1184.0 2592.5C1186.8 2604.3 1189.6 2615.6 1192.4 2626.4C1195.1 2637.2 1197.9 2647.6 1200.7 2657.5C1203.4 2667.4 1206.1 2676.9 1208.8 2686.0C1211.5 2695.1 1214.2 2703.8 1216.9 2712.1C1219.5 2720.5 1222.1 2728.5 1224.7 2736.1C1227.3 2743.8 1229.8 2751.1 1232.4 2758.1C1234.9 2765.1 1237.4 2771.8 1239.9 2778.2C1242.4 2784.6 1244.9 2790.8 1247.4 2796.7C1249.8 2802.6 1252.3 2808.2 1254.7 2813.6C1257.1 2819.0 1259.6 2824.2 1262.0 2829.1C1264.4 2834.1 1266.8 2838.8 1269.2 2843.3C1271.6 2847.9 1274.0 2852.2 1276.3 2856.4C1278.7 2860.5 1281.1 2864.5 1283.4 2868.3C1285.8 2872.1 1288.1 2875.8 1290.4 2879.3C1292.7 2882.8 1295.1 2886.1 1297.4 2889.3C1299.7 2892.5 1302.0 2895.6 1304.2 2898.5C1306.5 2901.5 1308.8 2904.3 1311.0 2907.0C1313.3 2909.7 1315.5 2912.2 1317.7 2914.7C1319.9 2917.2 1322.1 2919.5 1324.3 2921.8C1326.5 2924.1 1328.6 2926.2 1330.8 2928.3C1332.9 2930.4 1335.1 2932.4 1337.2 2934.3C1339.3 2936.2 1341.4 2938.0 1343.4 2939.7C1345.5 2941.5 1347.5 2943.1 1349.6 2944.7C1351.6 2946.3 1353.6 2947.9 1355.6 2949.3C1357.6 2950.8 1359.6 2952.2 1361.5 2953.5C1363.5 2954.9 1365.4 2956.2 1367.3 2957.4C1369.2 2958.6 1371.1 2959.8 1372.9 2960.9C1374.8 2962.1 1376.6 2963.2 1378.4 2964.2C1380.2 2965.2 1382.0 2966.2 1383.8 2967.2C1385.5 2968.1 1387.3 2969.0 1389.0 2969.9C1390.7 2970.8 1392.4 2971.6 1394.1 2972.4C1395.7 2973.2 1397.4 2973.9 1399.0 2974.7C1400.6 2975.4 1402.2 2976.1 1403.7 2976.8C1405.3 2977.4 1406.8 2978.1 1408.4 2978.7C1409.9 2979.3 1411.4 2979.9 1412.8 2980.5C1414.3 2981.0 1415.7 2981.6 1417.1 2982.1C1418.5 2982.6 1419.9 2983.1 1421.3 2983.6C1422.6 2984.0 1424.0 2984.5 1425.3 2984.9C1426.6 2985.4 1427.9 2985.8 1429.1 2986.2C1430.4 2986.6 1431.6 2987.0 1432.8 2987.3C1434.0 2987.7 1435.2 2988.0 1436.4 2988.4C1437.5 2988.7 1438.7 2989.0 1439.8 2989.3C1440.9 2989.6 1442.0 2989.9 1443.0 2990.2C1444.1 2990.5 1445.1 2990.8 1446.1 2991.0C1447.2 2991.3 1448.1 2991.5 1449.1 2991.8C1450.1 2992.0 1451.0 2992.2 1451.9 2992.4C1452.9 2992.6 1453.8 2992.9 1454.6 2993.1C1455.5 2993.3 1456.4 2993.4 1457.2 2993.6C1458.0 2993.8 1458.9 2994.0 1459.7 2994.1C1460.5 2994.3 1461.2 2994.5 1462.0 2994.6C1462.7 2994.8 1463.5 2994.9 1464.2 2995.1C1464.9 2995.2 1465.6 2995.3 1466.3 2995.5C1467.0 2995.6 1467.7 2995.7 1468.4 2995.8C1469.0 2996.0 1469.7 2996.1 1470.3 2996.2C1470.9 2996.3 1471.6 2996.4 1472.2 2996.5C1472.8 2996.6 1473.4 2996.7 1474.0 2996.8C1474.6 2996.9 1475.1 2996.9 1475.7 2997.0C1476.3 2997.1 1476.9 2997.2 1477.4 2997.3C1478.0 2997.3 1478.5 2997.4 1479.1 2997.5C1479.6 2997.6 1480.2 2997.6 1480.7 2997.7C1481.3 2997.8 1481.8 2997.8 1482.4 2997.9C1482.9 2997.9 1483.5 2998.0 1484.0 2998.0C1484.6 2998.1 1485.2 2998.1 1485.7 2998.2C1486.3 2998.2 1486.9 2998.3 1487.5 2998.3C1488.0 2998.4 1488.6 2998.4 1489.2 2998.5C1489.8 2998.5 1490.5 2998.5 1491.1 2998.6C1491.7 2998.6 1492.4 2998.7 1493.1 2998.7C1493.7 2998.7 1494.4 2998.8 1495.1 2998.8C1495.8 2998.8 1496.6 2998.9 1497.3 2998.9C1498.1 2998.9 1498.9 2998.9 1499.7 2999.0C1500.5 2999.0 1501.4 2999.0 1502.2 2999.1C1503.1 2999.1 1504.0 2999.1 1505.0 2999.1C1505.9 2999.1 1506.9 2999.2 1508.0 2999.2C1509.0 2999.2 1510.1 2999.2 1511.2 2999.2C1512.3 2999.3 1510.6 2999.3 1514.7 2999.3C1518.9 2999.3 1529.0 2999.3 1536.1 2999.3C1543.2 2999.3 1553.9 2999.3 1557.4 2999.3H1803.9" stroke="#DE4545"/>
<path d="M1127.0 1623.7C1128.6 1642.8 1133.4 1701.7 1136.6 1738.3C1139.8 1774.9 1143.0 1809.8 1146.2 1843.4C1149.4 1876.9 1152.6 1908.9 1155.8 1939.7C1159.1 1970.4 1162.3 1999.7 1165.5 2027.9C1168.7 2056.1 1171.9 2083.0 1175.2 2108.9C1178.4 2134.7 1181.6 2159.4 1184.8 2183.1C1188.0 2206.8 1191.3 2229.4 1194.5 2251.1C1197.7 2272.8 1200.9 2293.5 1204.1 2313.4C1207.3 2333.4 1210.4 2352.3 1213.6 2370.6C1216.8 2388.9 1220.0 2406.3 1223.1 2423.0C1226.3 2439.7 1229.4 2455.7 1232.5 2471.0C1235.7 2486.4 1238.8 2501.0 1241.9 2515.1C1245.0 2529.2 1248.1 2542.6 1251.2 2555.5C1254.4 2568.4 1257.5 2580.6 1260.6 2592.5C1263.8 2604.3 1267.0 2615.6 1270.1 2626.4C1273.3 2637.2 1276.5 2647.6 1279.7 2657.5C1282.9 2667.4 1286.0 2676.9 1289.1 2686.0C1292.1 2695.1 1295.1 2703.8 1298.0 2712.1C1301.0 2720.5 1303.8 2728.5 1306.6 2736.1C1309.3 2743.8 1312.0 2751.1 1314.7 2758.1C1317.3 2765.1 1320.0 2771.8 1322.6 2778.2C1325.2 2784.6 1327.7 2790.8 1330.3 2796.7C1332.8 2802.6 1335.4 2808.2 1337.9 2813.6C1340.5 2819.0 1343.0 2824.2 1345.5 2829.1C1348.0 2834.1 1350.5 2838.8 1353.0 2843.3C1355.4 2847.9 1357.9 2852.2 1360.3 2856.4C1362.7 2860.5 1365.2 2864.5 1367.5 2868.3C1369.9 2872.1 1372.3 2875.8 1374.6 2879.3C1377.0 2882.8 1379.3 2886.1 1381.6 2889.3C1383.8 2892.5 1386.1 2895.6 1388.3 2898.5C1390.5 2901.5 1392.7 2904.3 1394.9 2907.0C1397.1 2909.7 1399.2 2912.2 1401.3 2914.7C1403.4 2917.2 1405.5 2919.5 1407.6 2921.8C1409.6 2924.1 1411.7 2926.2 1413.7 2928.3C1415.7 2930.4 1417.6 2932.4 1419.6 2934.3C1421.5 2936.2 1423.4 2938.0 1425.3 2939.7C1427.2 2941.5 1429.0 2943.1 1430.9 2944.7C1432.7 2946.3 1434.5 2947.9 1436.3 2949.3C1438.0 2950.8 1439.8 2952.2 1441.5 2953.5C1443.2 2954.9 1444.9 2956.2 1446.6 2957.4C1448.2 2958.6 1449.9 2959.8 1451.5 2960.9C1453.1 2962.1 1454.7 2963.2 1456.2 2964.2C1457.8 2965.2 1459.3 2966.2 1460.8 2967.2C1462.3 2968.1 1463.8 2969.0 1465.3 2969.9C1466.8 2970.8 1468.2 2971.6 1469.6 2972.4C1471.0 2973.2 1472.4 2973.9 1473.8 2974.7C1475.2 2975.4 1476.5 2976.1 1477.9 2976.8C1479.2 2977.4 1480.5 2978.1 1481.8 2978.7C1483.1 2979.3 1484.4 2979.9 1485.6 2980.5C1486.9 2981.0 1488.1 2981.6 1489.3 2982.1C1490.5 2982.6 1491.7 2983.1 1492.9 2983.6C1494.1 2984.0 1495.3 2984.5 1496.4 2984.9C1497.6 2985.4 1498.7 2985.8 1499.9 2986.2C1501.0 2986.6 1502.1 2987.0 1503.2 2987.3C1504.3 2987.7 1505.4 2988.0 1506.5 2988.4C1507.6 2988.7 1508.7 2989.0 1509.8 2989.3C1510.8 2989.6 1511.9 2989.9 1512.9 2990.2C1514.0 2990.5 1515.0 2990.8 1516.1 2991.0C1517.1 2991.3 1518.2 2991.5 1519.2 2991.8C1520.2 2992.0 1521.3 2992.2 1522.3 2992.4C1523.3 2992.6 1524.4 2992.9 1525.4 2993.1C1526.4 2993.3 1527.5 2993.4 1528.5 2993.6C1529.5 2993.8 1530.6 2994.0 1531.6 2994.1C1532.7 2994.3 1533.7 2994.5 1534.8 2994.6C1535.8 2994.8 1536.9 2994.9 1538.0 2995.1C1539.1 2995.2 1540.1 2995.3 1541.2 2995.5C1542.3 2995.6 1543.4 2995.7 1544.6 2995.8C1545.7 2996.0 1546.8 2996.1 1548.0 2996.2C1549.1 2996.3 1550.3 2996.4 1551.5 2996.5C1552.6 2996.6 1553.8 2996.7 1555.1 2996.8C1556.3 2996.9 1557.5 2996.9 1558.8 2997.0C1560.1 2997.1 1561.4 2997.2 1562.7 2997.3C1564.0 2997.3 1565.3 2997.4 1566.7 2997.5C1568.1 2997.6 1569.5 2997.6 1570.9 2997.7C1572.3 2997.8 1573.8 2997.8 1575.3 2997.9C1576.8 2997.9 1578.3 2998.0 1579.8 2998.0C1581.4 2998.1 1583.0 2998.1 1584.6 2998.2C1586.3 2998.2 1588.0 2998.3 1589.7 2998.3C1591.4 2998.4 1593.1 2998.4 1595.0 2998.5C1596.8 2998.5 1598.6 2998.5 1600.5 2998.6C1602.4 2998.6 1604.3 2998.7 1606.3 2998.7C1608.3 2998.7 1610.4 2998.8 1612.5 2998.8C1614.6 2998.8 1616.7 2998.9 1618.9 2998.9C1621.1 2998.9 1623.4 2998.9 1625.7 2999.0C1628.0 2999.0 1630.4 2999.0 1632.8 2999.1C1635.3 2999.1 1637.8 2999.1 1640.3 2999.1C1642.9 2999.1 1645.5 2999.2 1648.3 2999.2C1651.0 2999.2 1653.7 2999.2 1656.6 2999.2C1659.4 2999.3 1660.3 2999.3 1665.3 2999.3C1670.3 2999.3 1679.6 2999.3 1686.7 2999.3C1693.8 2999.3 1704.5 2999.3 1708.0 2999.3H1803.9" stroke="#83BB47"/>
<path d="M1160.2 1623.7C1161.6 1642.8 1165.9 1701.7 1168.7 1738.3C1171.6 1774.9 1174.4 1809.8 1177.3 1843.4C1180.2 1876.9 1183.1 1908.9 1185.9 1939.7C1188.8 1970.4 1191.7 1999.7 1194.6 2027.9C1197.5 2056.1 1200.3 2083.0 1203.2 2108.9C1206.1 2134.7 1209.0 2159.4 1211.8 2183.1C1214.7 2206.8 1217.6 2229.4 1220.4 2251.1C1223.3 2272.8 1226.1 2293.5 1229.0 2313.4C1231.8 2333.4 1234.6 2352.3 1237.4 2370.6C1240.2 2388.9 1243.0 2406.3 1245.8 2423.0C1248.6 2439.7 1251.4 2455.7 1254.1 2471.0C1256.9 2486.4 1259.6 2501.0 1262.3 2515.1C1265.1 2529.2 1267.8 2542.6 1270.5 2555.5C1273.3 2568.4 1276.0 2580.6 1278.7 2592.5C1281.4 2604.3 1284.2 2615.6 1286.9 2626.4C1289.6 2637.2 1292.3 2647.6 1295.0 2657.5C1297.7 2667.4 1300.3 2676.9 1302.9 2686.0C1305.5 2695.1 1308.1 2703.8 1310.5 2712.1C1313.0 2720.5 1315.5 2728.5 1317.8 2736.1C1320.2 2743.8 1322.6 2751.1 1324.9 2758.1C1327.1 2765.1 1329.4 2771.8 1331.6 2778.2C1333.8 2784.6 1336.0 2790.8 1338.2 2796.7C1340.3 2802.6 1342.5 2808.2 1344.6 2813.6C1346.7 2819.0 1348.8 2824.2 1350.8 2829.1C1352.9 2834.1 1354.9 2838.8 1356.9 2843.3C1359.0 2847.9 1361.0 2852.2 1362.9 2856.4C1364.9 2860.5 1366.9 2864.5 1368.8 2868.3C1370.7 2872.1 1372.6 2875.8 1374.5 2879.3C1376.4 2882.8 1378.3 2886.1 1380.1 2889.3C1381.9 2892.5 1383.7 2895.6 1385.5 2898.5C1387.3 2901.5 1389.1 2904.3 1390.8 2907.0C1392.6 2909.7 1394.3 2912.2 1396.0 2914.7C1397.7 2917.2 1399.3 2919.5 1401.0 2921.8C1402.6 2924.1 1404.2 2926.2 1405.8 2928.3C1407.4 2930.4 1409.0 2932.4 1410.6 2934.3C1412.1 2936.2 1413.6 2938.0 1415.2 2939.7C1416.7 2941.5 1418.2 2943.1 1419.6 2944.7C1421.1 2946.3 1422.5 2947.9 1424.0 2949.3C1425.4 2950.8 1426.8 2952.2 1428.2 2953.5C1429.6 2954.9 1430.9 2956.2 1432.3 2957.4C1433.6 2958.6 1435.0 2959.8 1436.3 2960.9C1437.6 2962.1 1438.9 2963.2 1440.2 2964.2C1441.5 2965.2 1442.8 2966.2 1444.0 2967.2C1445.3 2968.1 1446.5 2969.0 1447.7 2969.9C1449.0 2970.8 1450.2 2971.6 1451.4 2972.4C1452.6 2973.2 1453.7 2973.9 1454.9 2974.7C1456.1 2975.4 1457.3 2976.1 1458.4 2976.8C1459.6 2977.4 1460.7 2978.1 1461.8 2978.7C1463.0 2979.3 1464.1 2979.9 1465.2 2980.5C1466.3 2981.0 1467.4 2981.6 1468.5 2982.1C1469.6 2982.6 1470.7 2983.1 1471.8 2983.6C1472.9 2984.0 1474.0 2984.5 1475.1 2984.9C1476.1 2985.4 1477.2 2985.8 1478.3 2986.2C1479.4 2986.6 1480.4 2987.0 1481.5 2987.3C1482.5 2987.7 1483.6 2988.0 1484.6 2988.4C1485.7 2988.7 1486.8 2989.0 1487.8 2989.3C1488.9 2989.6 1489.9 2989.9 1491.0 2990.2C1492.0 2990.5 1493.1 2990.8 1494.1 2991.0C1495.2 2991.3 1496.2 2991.5 1497.3 2991.8C1498.3 2992.0 1499.4 2992.2 1500.4 2992.4C1501.5 2992.6 1502.5 2992.9 1503.6 2993.1C1504.7 2993.3 1505.7 2993.4 1506.8 2993.6C1507.9 2993.8 1508.9 2994.0 1510.0 2994.1C1511.1 2994.3 1512.1 2994.5 1513.2 2994.6C1514.3 2994.8 1515.4 2994.9 1516.5 2995.1C1517.6 2995.2 1518.7 2995.3 1519.8 2995.5C1520.8 2995.6 1521.9 2995.7 1523.1 2995.8C1524.2 2996.0 1525.3 2996.1 1526.4 2996.2C1527.5 2996.3 1528.6 2996.4 1529.7 2996.5C1530.9 2996.6 1532.0 2996.7 1533.1 2996.8C1534.3 2996.9 1535.4 2996.9 1536.6 2997.0C1537.7 2997.1 1538.8 2997.2 1540.0 2997.3C1541.1 2997.3 1542.3 2997.4 1543.5 2997.5C1544.6 2997.6 1545.8 2997.6 1546.9 2997.7C1548.1 2997.8 1549.3 2997.8 1550.4 2997.9C1551.6 2997.9 1552.8 2998.0 1554.0 2998.0C1555.1 2998.1 1556.3 2998.1 1557.5 2998.2C1558.6 2998.2 1559.8 2998.3 1561.0 2998.3C1562.2 2998.4 1563.3 2998.4 1564.5 2998.5C1565.7 2998.5 1566.8 2998.5 1568.0 2998.6C1569.2 2998.6 1570.3 2998.7 1571.5 2998.7C1572.6 2998.7 1573.8 2998.8 1574.9 2998.8C1576.1 2998.8 1577.2 2998.9 1578.3 2998.9C1579.4 2998.9 1580.5 2998.9 1581.7 2999.0C1582.8 2999.0 1583.8 2999.0 1584.9 2999.1C1586.0 2999.1 1587.1 2999.1 1588.1 2999.1C1589.2 2999.1 1590.2 2999.2 1591.2 2999.2C1592.2 2999.2 1593.2 2999.2 1594.2 2999.2C1595.1 2999.3 1593.0 2999.3 1597.0 2999.3C1601.1 2999.3 1611.3 2999.3 1618.4 2999.3C1625.5 2999.3 1636.2 2999.3 1639.8 2999.3H1803.9" stroke="#8A5FA9"/>
</g></g>
<text transform="translate(201.0 3016.6) scale(0.972 1)" font-size="48.5" text-anchor="end">0</text>
<text transform="translate(201.0 2689.9) scale(0.972 1)" font-size="48.5" text-anchor="end">0.005</text>
<text transform="translate(201.0 2363.2) scale(0.972 1)" font-size="48.5" text-anchor="end">0.01</text>
<text transform="translate(201.0 2036.5) scale(0.972 1)" font-size="48.5" text-anchor="end">0.015</text>
<text transform="translate(201.0 1709.8) scale(0.972 1)" font-size="48.5" text-anchor="end">0.02</text>
<text transform="translate(238.8 3071.2) scale(0.972 1)" font-size="48.5" text-anchor="middle">350</text>
<text transform="translate(612.9 3071.2) scale(0.972 1)" font-size="48.5" text-anchor="middle">370</text>
<text transform="translate(987.0 3071.2) scale(0.972 1)" font-size="48.5" text-anchor="middle">390</text>
<text transform="translate(1361.1 3071.2) scale(0.972 1)" font-size="48.5" text-anchor="middle">410</text>
<text transform="translate(1735.2 3071.2) scale(0.972 1)" font-size="48.5" text-anchor="middle">430</text>
<text transform="translate(2109.3 3071.2) scale(0.972 1)" font-size="48.5" text-anchor="middle">450</text>
<text transform="translate(1174.5 3093.7) scale(0.955 1)" font-size="55.5" font-weight="bold" text-anchor="middle">λ [nm]</text>
<text transform="translate(92.1 2346.1) rotate(-90) scale(0.960 1)" font-size="57.3" font-weight="bold" text-anchor="middle">Kubelka-Munk function</text>
<path d="M1597.4 1932.0H1686.2" stroke="#00A9C7" stroke-width="9" stroke-linecap="round" fill="none"/>
<text transform="translate(1694.6 1946.8) scale(0.965 1)" font-size="47.6">ZnO</text>
<path d="M1597.4 2011.8H1686.2" stroke="#107CC1" stroke-width="9" stroke-linecap="round" fill="none"/>
<text transform="translate(1694.6 2026.6) scale(0.965 1)" font-size="47.6">50 W-ZnO</text>
<path d="M1597.4 2091.5H1686.2" stroke="#DE4545" stroke-width="9" stroke-linecap="round" fill="none"/>
<text transform="translate(1694.6 2106.3) scale(0.965 1)" font-size="47.6">75 W-ZnO</text>
<path d="M1597.4 2171.2H1686.2" stroke="#83BB47" stroke-width="9" stroke-linecap="round" fill="none"/>
<text transform="translate(1694.6 2186.1) scale(0.965 1)" font-size="47.6">100 W-ZnO</text>
<path d="M1597.4 2251.0H1686.2" stroke="#8A5FA9" stroke-width="9" stroke-linecap="round" fill="none"/>
<text transform="translate(1694.6 2265.8) scale(0.965 1)" font-size="47.6">200 W-ZnO</text>
<text transform="translate(2017.6 1752.6) scale(1.030 1)" font-size="45.6">(b)</text>
</g>
</svg></body></html>
